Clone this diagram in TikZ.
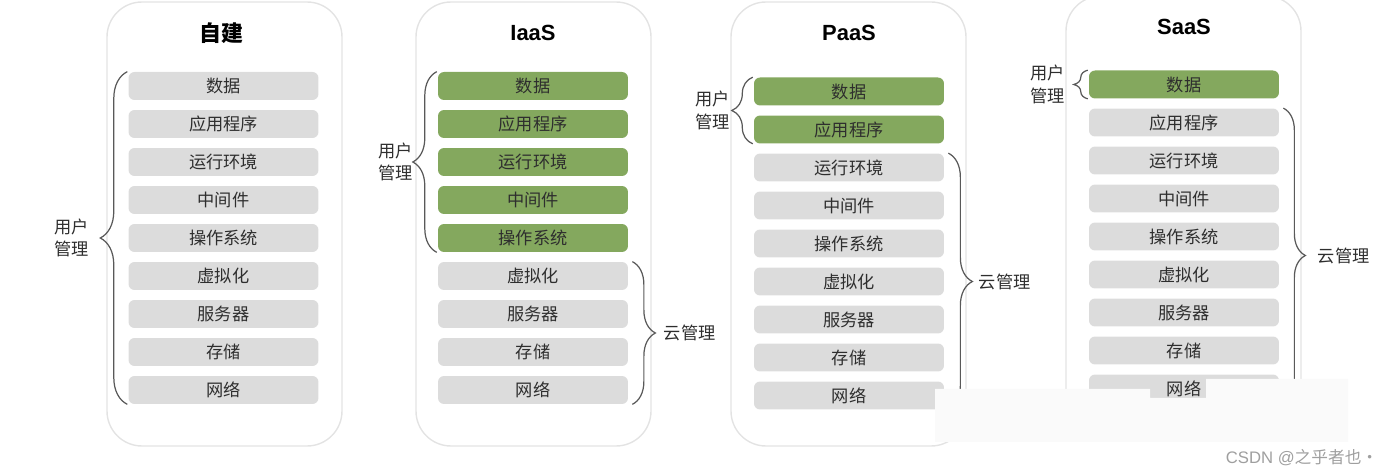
\documentclass[tikz,border=0pt]{standalone}
\usepackage{fontspec}
\setmainfont{Liberation Sans}
\newfontfamily\cjk{Noto Sans CJK SC}
\usetikzlibrary{decorations.pathreplacing}

\definecolor{userGreen}{HTML}{84A85E}
\definecolor{cloudGray}{HTML}{DCDCDC}
\definecolor{inkGray}{HTML}{2E2E2E}

\tikzset{
  card/.style={draw=gray!22, line width=0.8pt, rounded corners=0.7cm},
  layer/.style={minimum width=3.8cm, minimum height=0.56cm, inner sep=0pt,
    rounded corners=0.12cm, text=inkGray, font=\cjk\fontsize{9.8}{11}\selectfont},
  title/.style={font=\bfseries\fontsize{12.5}{14}\selectfont},
  brace/.style={decorate, decoration={brace, amplitude=#1}, draw=black!65, line width=0.7pt},
  side/.style={inner sep=0pt, align=center, text=inkGray, font=\cjk\fontsize{9.8}{13}\selectfont}
}

\begin{document}
\begin{tikzpicture}[x=0.02cm, y=-0.02cm]
  \useasboundingbox (0,0) rectangle (1394,476);

  % 自建
  \draw[card] (107,2) rectangle (342,446);
  \node[title] (t1) at (221,33) {\cjk 自建};
  \foreach \name/\col [count=\i] in {数据/cloudGray,应用程序/cloudGray,运行环境/cloudGray,中间件/cloudGray,操作系统/cloudGray,虚拟化/cloudGray,服务器/cloudGray,存储/cloudGray,网络/cloudGray}
    \node[layer, fill=\col] (a\i) at (223.5,{86+38*(\i-1)}) {\name};
  \draw[brace=0.54cm] ([xshift=-0.5pt]a9.south west) -- ([xshift=-0.5pt]a1.north west)
    node[midway, left=0.76cm, side] (u1) {用户\\管理};

  % IaaS
  \draw[card] (416,2) rectangle (651,446);
  \node[title] (t2) at (533,33) {IaaS};
  \foreach \name/\col [count=\i] in {数据/userGreen,应用程序/userGreen,运行环境/userGreen,中间件/userGreen,操作系统/userGreen,虚拟化/cloudGray,服务器/cloudGray,存储/cloudGray,网络/cloudGray}
    \node[layer, fill=\col] (b\i) at (533,{86+38*(\i-1)}) {\name};
  \draw[brace=0.48cm] ([xshift=-0.5pt]b5.south west) -- ([xshift=-0.5pt]b1.north west)
    node[midway, left=0.46cm, side] (u2) {用户\\管理};
  \draw[brace=0.46cm] ([xshift=2.3pt]b6.north east) -- ([xshift=2.3pt]b9.south east)
    node[midway, right=0.62cm, side] (c2) {云管理};

  % PaaS
  \draw[card] (731,2) rectangle (966,446);
  \node[title] (t3) at (849,33) {PaaS};
  \foreach \name/\col [count=\i] in {数据/userGreen,应用程序/userGreen,运行环境/cloudGray,中间件/cloudGray,操作系统/cloudGray,虚拟化/cloudGray,服务器/cloudGray,存储/cloudGray,网络/cloudGray}
    \node[layer, fill=\col] (p\i) at (849,{91.5+38*(\i-1)}) {\name};
  \draw[brace=0.42cm] ([xshift=-0.5pt]p2.south west) -- ([xshift=-0.5pt]p1.north west)
    node[midway, left=0.44cm, side] (u3) {用户\\管理};
  \draw[brace=0.48cm] ([xshift=2.3pt]p3.north east) -- ([xshift=2.3pt]p9.south east)
    node[midway, right=0.6cm, side] (c3) {云管理};

  % SaaS
  \draw[card] (1066,-4) rectangle (1301,440);
  \node[title] (t4) at (1184,27) {SaaS};
  \foreach \name/\col [count=\i] in {数据/userGreen,应用程序/cloudGray,运行环境/cloudGray,中间件/cloudGray,操作系统/cloudGray,虚拟化/cloudGray,服务器/cloudGray,存储/cloudGray,网络/cloudGray}
    \node[layer, fill=\col] (s\i) at (1184,{84.5+38*(\i-1)}) {\name};
  \draw[brace=0.28cm] ([xshift=-0.5pt]s1.south west) -- ([xshift=-0.5pt]s1.north west)
    node[midway, left=0.44cm, side] (u4) {用户\\管理};
  \draw[brace=0.44cm] ([xshift=2.3pt]s2.north east) -- ([xshift=2.3pt]s9.south east)
    node[midway, right=0.68cm, side] (c4) {云管理};

  % watermark
  \fill[gray!4] (935,389) rectangle (1150,442) (1150,398) rectangle (1206,442) (1206,379) rectangle (1348,442);
  \node[text=gray!75, font=\fontsize{9.5}{11}\selectfont] (wm) at (1302,458) {CSDN @{\cjk 之乎者也·}};
\end{tikzpicture}
\end{document}
